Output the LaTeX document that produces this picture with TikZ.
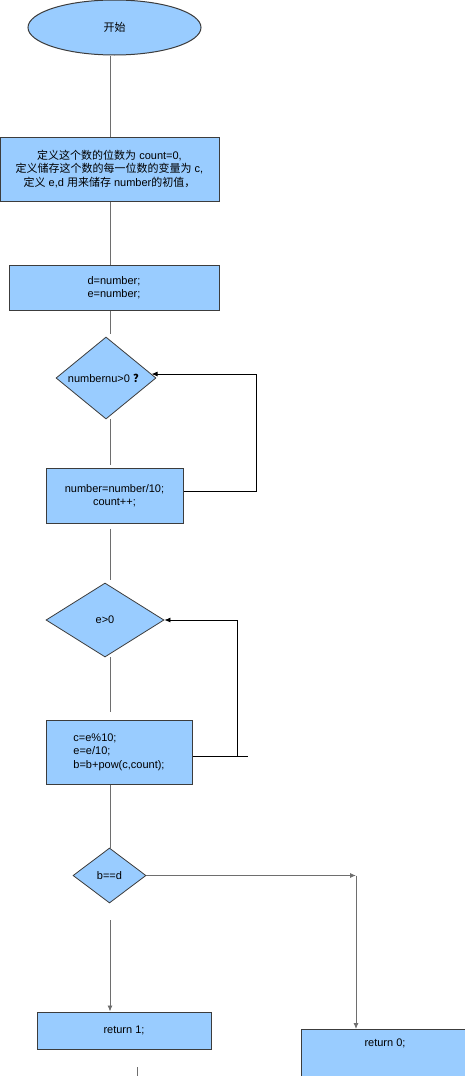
\documentclass[tikz,border=0pt]{standalone}
\usepackage{fontspec}
\setmainfont{Liberation Sans}
\newfontfamily\cjk{Noto Sans CJK SC}
\usetikzlibrary{shapes.geometric,arrows.meta}
\definecolor{boxblue}{HTML}{99CCFF}
\definecolor{rim}{HTML}{3C3C3C}
\definecolor{wiregray}{HTML}{6E6E6E}

\begin{document}
\begin{tikzpicture}[x=1pt, y=-1pt,
  every node/.style={font=\fontsize{11}{13.5}\selectfont},
  proc/.style={draw=rim, fill=boxblue, line width=1pt, rectangle, inner sep=0pt, align=center},
  cond/.style={draw=rim, fill=boxblue, line width=0.8pt, diamond, aspect=1.2, inner sep=0pt},
  wire/.style={draw=wiregray, line width=0.9pt},
  back/.style={draw=black, line width=0.8pt},
  tip/.style={-{Latex[length=6pt,width=5pt]}}]
  \useasboundingbox (0,0) rectangle (465,1076);
  \clip (0,0) rectangle (465,1076);
  \coordinate (spine) at (110,0);

  % steps
  \node[proc, ellipse, minimum width=173pt, minimum height=55pt] (start) at (114.5,27.5) {\cjk 开始};
  \node[proc, minimum width=219pt, minimum height=64pt] (def) at (109.5,169)
    {{\cjk 定义这个数的位数为} count=0,\\{\cjk 定义储存这个数的每一位数的变量为} c,\\{\cjk 定义} e,d {\cjk 用来储存} number{\cjk 的初值，}};
  \node[proc, minimum width=210pt, minimum height=45pt] (init) at (114,287.5) {d=number;\\e=number;};
  \node[cond, minimum width=100pt, minimum height=82pt] (loop1) at (106,378) {numbernu>0 {\cjk\bfseries ？}};
  \node[proc, minimum width=137pt, minimum height=55pt] (div) at (114.5,495.5) {number=number/10;\\count++;};
  \node[cond, minimum width=118pt, minimum height=74pt] (loop2) at (105,620) {e>0};
  \node[proc, minimum width=146pt, minimum height=64pt, align=left] (body) at (119,752)
    {c=e\%10;\\e=e/10;\\b=b+pow(c,count);};
  \node[cond, minimum width=73pt, minimum height=55pt] (test) at (109.5,875.5) {b==d};
  \node[proc, minimum width=174pt, minimum height=37pt] (ret1) at (124,1030.5) {return 1;};
  \node[proc, minimum width=168pt, text height=8pt, text depth=40pt, inner ysep=9pt, anchor=north] (ret0) at (385,1029) {return 0;};

  % main line
  \draw[wire] (start.south -| spine) -- (def.north -| spine);
  \draw[wire] (def.south -| spine) -- (init.north -| spine);
  \draw[wire, shorten >=3pt] (init.south -| spine) -- (loop1.north -| spine);
  \draw[wire, shorten >=3pt] (loop1.south -| spine) -- (div.north -| spine);
  \draw[wire, shorten <=5pt, shorten >=3pt] (div.south -| spine) -- (loop2.north -| spine);
  \draw[wire, shorten >=8pt] (loop2.south -| spine) -- (body.north -| spine);
  \draw[wire] (body.south -| spine) -- (test.north -| spine);
  \draw[wire, tip, shorten <=17pt] (test.south -| spine) -- (ret1.north -| spine);
  \coordinate (stub) at (137,1067);
  \draw[wire] (stub) -- ++(0,12);

  % right branch
  \coordinate (turn) at (356,875.5);
  \draw[wire, tip] (test.east) -- (turn);
  \draw[wire, tip] (turn) -- (turn |- ret0.north);

  % loops back
  \draw[back, tip] ([yshift=4pt]div.east) -- ++(73,0) |- (loop1.5);
  \draw[back] ([yshift=-4pt]body.east) -- ++(55,0);
  \draw[back, tip] ([yshift=-4pt]body.east) ++(45,0) |- (loop2.east);
\end{tikzpicture}
\end{document}
